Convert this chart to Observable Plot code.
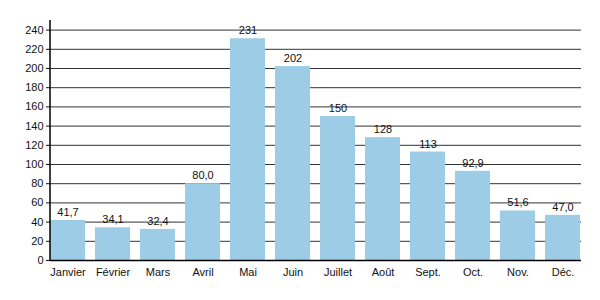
<!DOCTYPE html>
<html><head><meta charset="utf-8">
<script src="https://cdn.jsdelivr.net/npm/d3@7"></script>
<script src="https://cdn.jsdelivr.net/npm/@observablehq/plot@0.6"></script>
<style>body{margin:0;background:#fff;} svg{display:block;}</style>
</head><body><div id="chart"></div>
<script>
const months = ["Janvier","Février","Mars","Avril","Mai","Juin","Juillet","Août","Sept.","Oct.","Nov.","Déc."];
const values = [41.7,34.1,32.4,80.0,231,202,150,128,113,92.9,51.6,47.0];
const labels = ["41,7","34,1","32,4","80,0","231","202","150","128","113","92,9","51,6","47,0"];
const yTicks = [0,20,40,60,80,100,120,140,160,180,200,220,240];
const yDomain = [0,250];
const data = months.map((m,i)=>({month:m, value:values[i], label:labels[i]}));
const chart = Plot.plot({
  width: 600, height: 300,
  marginLeft: 50, marginRight: 19, marginTop: 20, marginBottom: 40,
  style: {fontFamily: "'Liberation Sans', Arial, sans-serif", fontSize: "11px", color: "#111"},
  x: {domain: months, paddingInner: 0.22, paddingOuter: 0.01, label: null},
  y: {domain: yDomain, label: null},
  marks: [
    Plot.ruleY(yTicks.filter(d=>d>0), {stroke: "#333", strokeWidth: 1}),
    Plot.barY(data, {x: "month", y: "value", fill: "#9dcde6"}),
    Plot.text(data, {x: "month", y: "value", text: "label", dy: -8, fill: "#111", fontSize: 11}),
    Plot.ruleY([0], {stroke: "#000", strokeWidth: 1.5}),
    Plot.axisY({ticks: yTicks, tickSize: 4, tickPadding: 3, label: null, tickFormat: d=>String(d)}),
    Plot.axisX({tickSize: 0, label: null, tickPadding: 8})
  ]
});
// y axis spine using the plot's own y scale
const y = chart.scale("y");
const x0 = 50;
d3.select(chart).append("line")
  .attr("x1", x0).attr("x2", x0)
  .attr("y1", y.apply(yDomain[0])).attr("y2", y.apply(yDomain[1]))
  .attr("stroke", "#000").attr("stroke-width", 1.5);
document.getElementById("chart").appendChild(chart);
</script>
</body></html>
